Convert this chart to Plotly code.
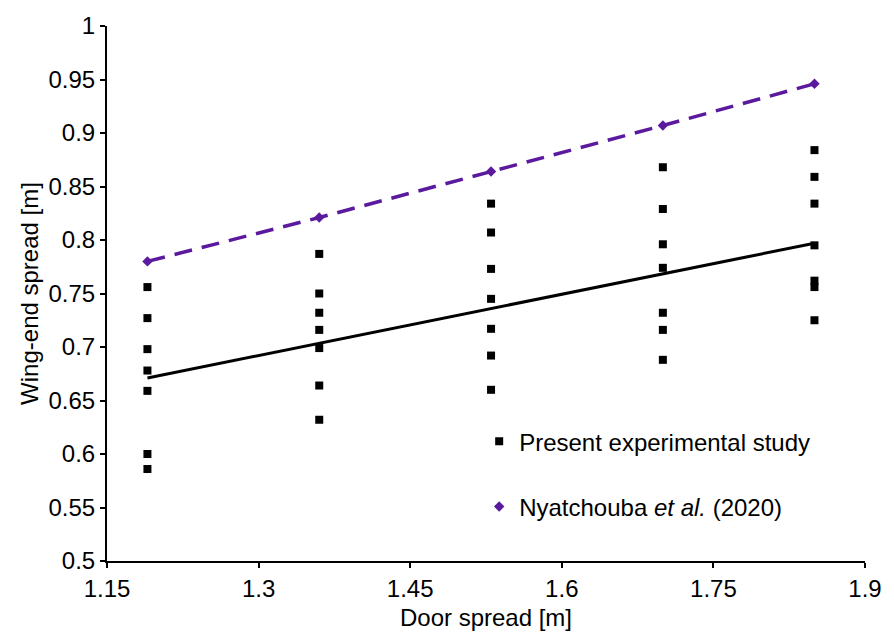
import plotly.graph_objects as go

# Present experimental study (door spread, wing-end spread)
door_x = [1.19, 1.36, 1.53, 1.70, 1.85]
exp_y = [
    [0.756, 0.727, 0.698, 0.678, 0.659, 0.600, 0.586],
    [0.787, 0.750, 0.732, 0.716, 0.699, 0.664, 0.632],
    [0.834, 0.807, 0.773, 0.745, 0.717, 0.692, 0.660],
    [0.868, 0.829, 0.796, 0.774, 0.732, 0.716, 0.688],
    [0.884, 0.859, 0.834, 0.795, 0.762, 0.756, 0.725],
]
# Linear trend of the experimental data
trend_x = [1.19, 1.85]
trend_y = [0.671, 0.797]
# Nyatchouba et al. (2020)
nya_y = [0.780, 0.821, 0.864, 0.907, 0.946]

x_ticks = [1.15, 1.3, 1.45, 1.6, 1.75, 1.9]
x_ticktext = ["1.15", "1.3", "1.45", "1.6", "1.75", "1.9"]
y_ticks = [0.5, 0.55, 0.6, 0.65, 0.7, 0.75, 0.8, 0.85, 0.9, 0.95, 1.0]
y_ticktext = ["0.5", "0.55", "0.6", "0.65", "0.7", "0.75", "0.8", "0.85", "0.9", "0.95", "1"]

FONT = "Liberation Sans, Arial, sans-serif"
PURPLE = "#5b1a9e"

xs, ys = [], []
for x, col in zip(door_x, exp_y):
    for v in col:
        xs.append(x)
        ys.append(v)

fig = go.Figure()
fig.add_trace(go.Scatter(x=trend_x, y=trend_y, mode="lines",
                         line=dict(color="black", width=3), showlegend=False,
                         hoverinfo="skip"))
fig.add_trace(go.Scatter(x=door_x, y=nya_y, mode="lines",
                         line=dict(color=PURPLE, width=3.5, dash="18px,10px"),
                         showlegend=False, hoverinfo="skip"))
fig.add_trace(go.Scatter(x=xs, y=ys, mode="markers", name="Present experimental study",
                         marker=dict(symbol="square", size=8, color="black"),
                         legendgroup="a"))
fig.add_trace(go.Scatter(x=door_x, y=nya_y, mode="markers",
                         name="Nyatchouba <i>et al.</i> (2020)",
                         marker=dict(symbol="diamond", size=8, color=PURPLE),
                         legendgroup="b"))

axis_common = dict(showgrid=False, zeroline=False, showline=True, linecolor="black",
                   linewidth=2, ticks="outside", ticklen=5, tickwidth=2,
                   tickcolor="black", tickfont=dict(family=FONT, size=24, color="black"))

fig.update_layout(
    width=894, height=639,
    margin=dict(l=107, r=29, t=15, b=76),
    paper_bgcolor="white", plot_bgcolor="white",
    font=dict(family=FONT, color="black"),
    xaxis=dict(range=[1.15, 1.9], tickvals=x_ticks, ticktext=x_ticktext,
               title=dict(text="Door spread [m]", font=dict(family=FONT, size=24), standoff=8),
               **axis_common),
    yaxis=dict(range=[0.5, 1.0], tickvals=y_ticks, ticktext=y_ticktext,
               title=dict(text="Wing-end spread [m]", font=dict(family=FONT, size=24), standoff=3),
               **axis_common),
    legend=dict(x=0.491, y=0.265, xanchor="left", yanchor="top",
                font=dict(family=FONT, size=24, color="black"),
                bgcolor="rgba(0,0,0,0)", tracegroupgap=31, itemwidth=30),
)

fig.write_html("out.html")
